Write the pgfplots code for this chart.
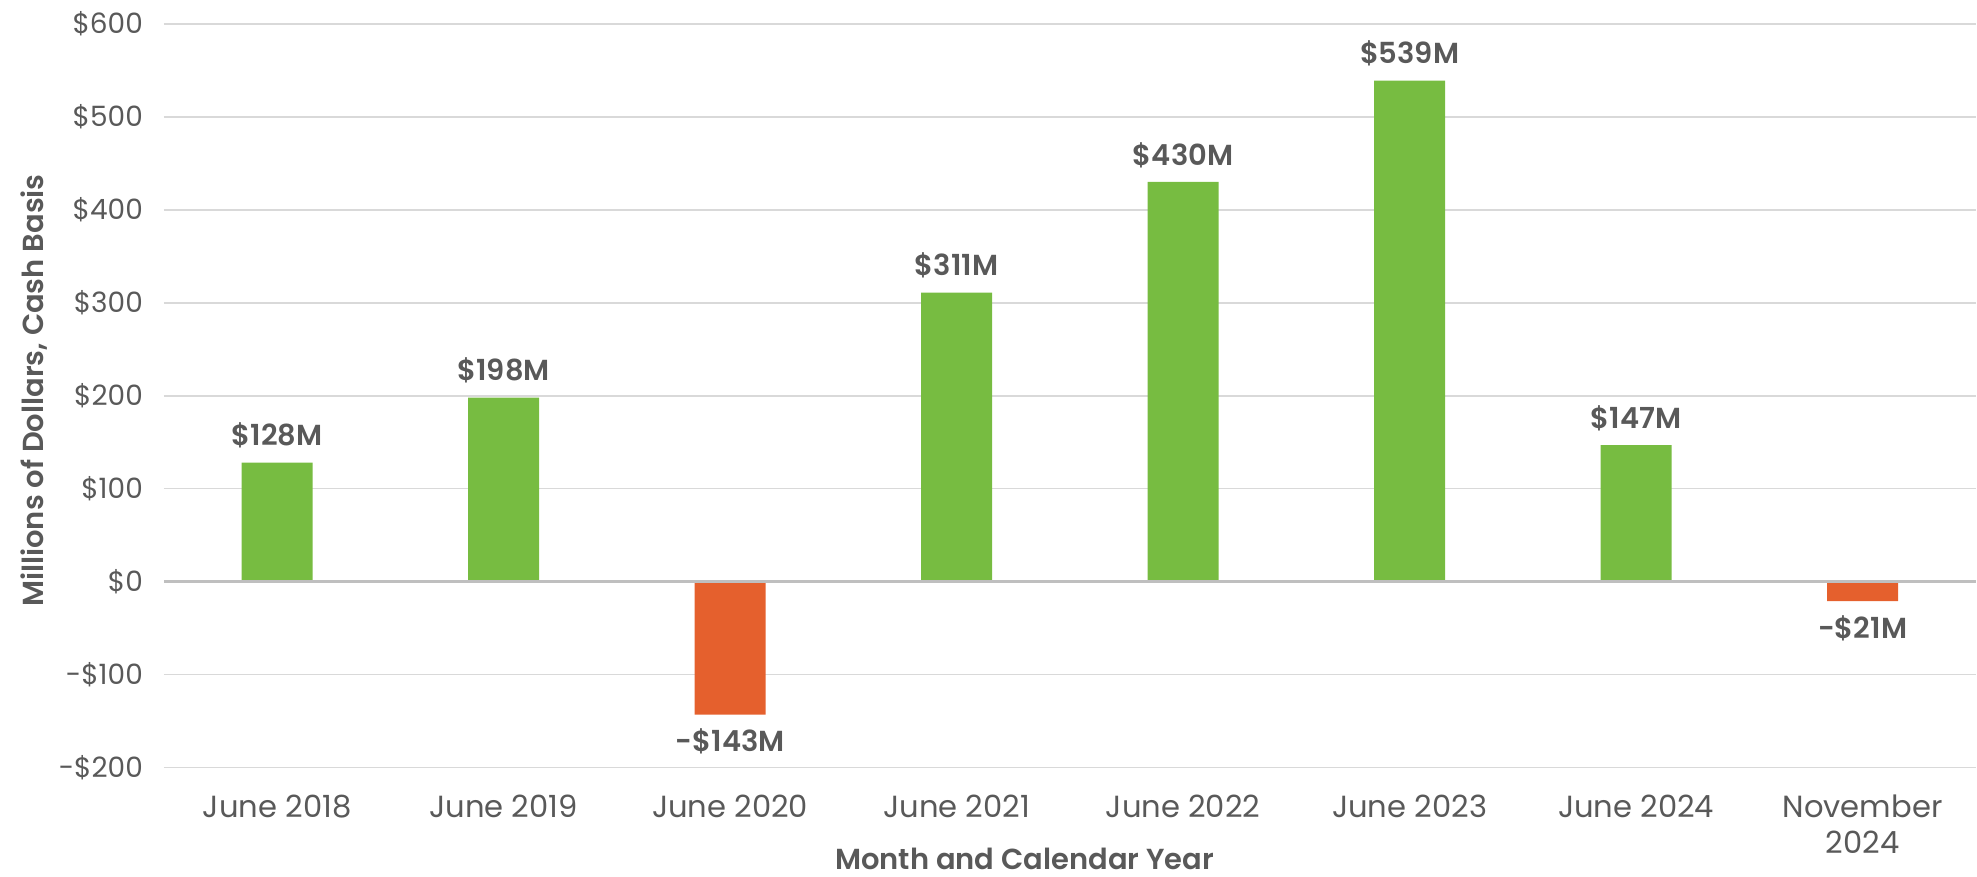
\documentclass[border=0pt]{standalone}
\usepackage{fontspec}
\setmainfont{Poppins}
\newfontfamily\semifont{Poppins SemiBold}
\usepackage{pgfplots}
\usepackage{pgfplotstable}
\pgfplotsset{compat=1.18}

\definecolor{posgreen}{HTML}{77BC41}
\definecolor{negorange}{HTML}{E5602D}
\definecolor{txt}{HTML}{595959}
\definecolor{gridc}{HTML}{D9D9D9}
\definecolor{zeroc}{HTML}{BFBFBF}

% positive years (green) and negative years (orange)
\pgfplotstableread{
x y lab
0 128 \$128M
1 198 \$198M
3 311 \$311M
4 430 \$430M
5 539 \$539M
6 147 \$147M
}\posdata
\pgfplotstableread{
x y lab
2 -143 -\$143M
7 -21 -\$21M
}\negdata

\begin{document}
\begin{tikzpicture}
\begin{axis}[
    scale only axis,
    width=906.5pt, height=372pt,
    ybar, bar width=35.5pt, bar shift=0pt,
    xmin=-0.5, xmax=7.5, ymin=-200, ymax=600,
    xtick={0,...,7},
    xticklabels={June 2018, June 2019, June 2020, June 2021, June 2022, June 2023, June 2024, {November\\2024}},
    xticklabel style={align=center, font=\fontsize{15.3}{18}\selectfont, text=txt, yshift=-10pt},
    ytick={-200,-100,...,600},
    yticklabels={-\$200,-\$100,\$0,\$100,\$200,\$300,\$400,\$500,\$600},
    yticklabel style={font=\fontsize{14}{16}\selectfont, text=txt, xshift=-7pt},
    major tick length=0pt,
    axis line style={draw=none},
    ymajorgrids, grid style={gridc, line width=0.75pt},
    xlabel={Month and Calendar Year},
    ylabel={Millions of Dollars, Cash Basis},
    xlabel style={font=\semifont\fontsize{14.5}{17}\selectfont, text=txt,
        at={(axis description cs:0.475,0)}, anchor=base, yshift=-51pt},
    ylabel style={font=\semifont\fontsize{14.5}{17}\selectfont, text=txt,
        at={(axis description cs:-0.0667,0.507)}, anchor=base},
    nodes near coords, point meta=explicit symbolic,
    nodes near coords style={font=\semifont\fontsize{14.5}{17}\selectfont, text=txt, inner sep=7pt},
    clip=false,
]
\addplot[fill=posgreen, draw=none] table[x=x, y=y, meta=lab] {\posdata};
\addplot[fill=negorange, draw=none,
    every node near coord/.append style={anchor=north}] table[x=x, y=y, meta=lab] {\negdata};
\draw[zeroc, line width=1.2pt] (axis cs:-0.5,0) -- (axis cs:7.5,0);
\path ([shift={(-82pt,-54pt)}]rel axis cs:0,0) rectangle ([shift={(0pt,12pt)}]rel axis cs:1,1);
\end{axis}
\end{tikzpicture}
\end{document}
